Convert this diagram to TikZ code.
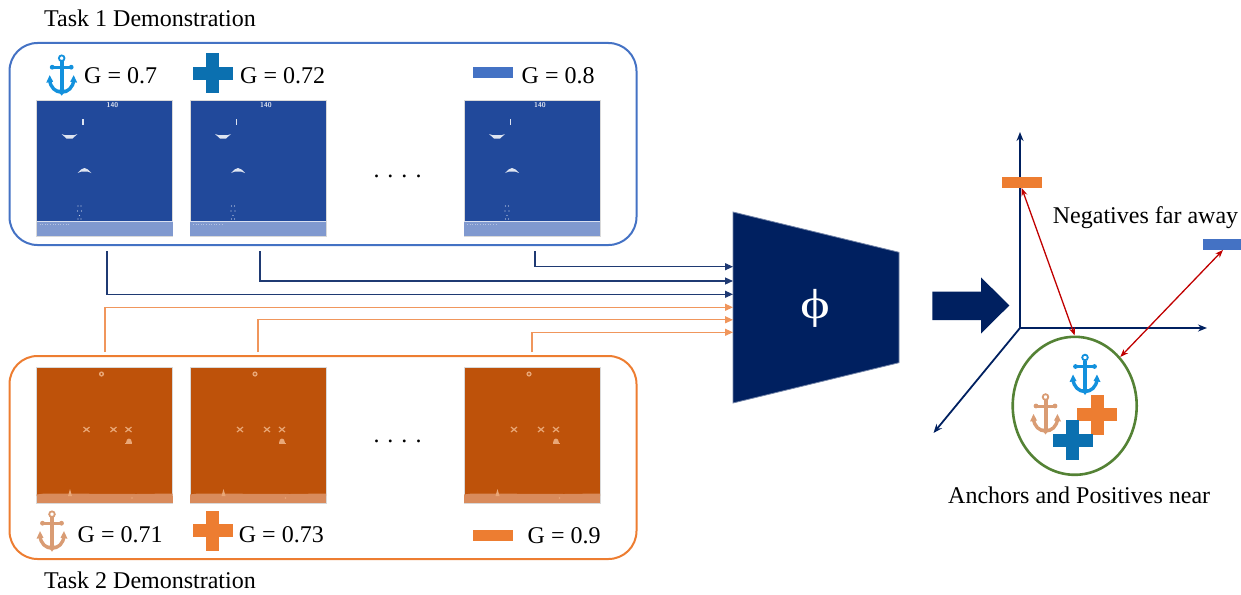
\documentclass[tikz,border=0pt]{standalone}
\usepackage{graphicx}
\usepackage{fontspec}
\setmainfont{Liberation Serif}
\newfontfamily\phifont{Liberation Serif}
\usetikzlibrary{arrows.meta,shapes.geometric,calc}

\definecolor{boxblue}{HTML}{4472C4}
\definecolor{boxorange}{HTML}{ED7D31}
\definecolor{navy}{HTML}{002060}
\definecolor{connblue}{HTML}{1F3A73}
\definecolor{connorange}{HTML}{F0965C}
\definecolor{arrowred}{HTML}{C00000}
\definecolor{ringgreen}{HTML}{548235}
\definecolor{anchorblue}{HTML}{1391DD}
\definecolor{anchortan}{HTML}{D99C74}
\definecolor{plusblue}{HTML}{0B70B0}
\definecolor{plusorange}{HTML}{ED7D31}
\definecolor{gameblue}{HTML}{21499B}
\definecolor{gamebluelight}{HTML}{8099CF}
\definecolor{gameorange}{HTML}{BE520A}
\definecolor{gameorangelight}{HTML}{D98B5C}
\definecolor{spritepale}{HTML}{E9A777}

\tikzset{
  lbl/.style={inner sep=0pt, anchor=base west},
  bframe/.style={draw=black!15, line width=0.8, fill=gameblue, minimum width=136, minimum height=136, inner sep=0pt, outer sep=0pt},
  oframe/.style={bframe, fill=gameorange},
  bconn/.style={draw=connblue, line width=1.2, -{Triangle[length=8pt,width=7pt]}},
  oconn/.style={draw=connorange, line width=1.2, -{Triangle[length=8pt,width=7pt]}},
  axisline/.style={draw=navy, line width=1.8, -{Stealth[length=9pt,width=7pt]}},
  redarrow/.style={draw=arrowred, line width=1.3, {Stealth[length=8pt,width=6pt]}-{Stealth[length=8pt,width=6pt]}},
  bar/.style={minimum width=40, minimum height=10.5, inner sep=0pt},
  % anchor icon, origin at the top centre of the ring
  anchoricon/.pic={
    \draw[line width=1.8] (0,3.5) circle (2.8);
    \draw[line width=4] (0,6.5) -- (0,36);
    \draw[line width=3] (-9,12.5) -- (9,12.5);
    \fill (-9.5,12.5) circle (2.4) (9.5,12.5) circle (2.4);
    \draw[line width=3.4] (-12,25) .. controls (-11.5,33) and (-6,37.5) .. (0,37.5)
                                    .. controls (6,37.5) and (11.5,33) .. (12,25);
    \fill (-12,20.5) -- (-15.5,28) -- (-8.5,27) -- cycle;
    \fill (12,20.5) -- (15.5,28) -- (8.5,27) -- cycle;
    \fill (-4.5,35) -- (0,41) -- (4.5,35) -- cycle;
  },
  plusicon/.pic={
    \fill (-20,-6.5) rectangle (20,6.5);
    \fill (-6.5,-20) rectangle (6.5,20);
  },
  % sea scene, origin at the frame's top left corner
  seablue/.pic={
    \fill[gamebluelight] (0,121) rectangle (136,136);
    \draw[white!70!gamebluelight, line width=1] (0,121.5) -- (136,121.5);
    \draw[white!40!gamebluelight, line width=0.6, dotted] (3,124.5) -- (33,124.5);
    \node[text=white!85!gameblue, font=\sffamily\bfseries\fontsize{7}{7}\selectfont, inner sep=0pt] at (76,5.5) {140};
    \draw[white!85!gameblue, line width=1.4] (46.5,19) -- (46.5,25);
    \fill[white!85!gameblue] (25,34) -- (28,35) -- (38,35) -- (41,34) -- (36,38.5) -- (30,38.5) -- cycle;
    \fill[white!85!gameblue] (41,73) -- (44.5,69.5) -- (48,68) -- (51.5,69.5) -- (55,73) -- (51,71.5) -- (45,71.5) -- cycle;
    \foreach \p in {(41.5,106),(44.5,106),(41,111),(45,111),(43,115.5),(41.5,119),(44.5,119)}
      \fill[white!75!gameblue] \p circle (0.7);
  },
  seaorange/.pic={
    \fill[gameorangelight] (0,129) rectangle (136,136);
    \fill[gameorangelight] (0,129) -- (0,127.5) -- (8,126.5) -- (100,127) -- (136,126.5) -- (136,129) -- cycle;
    \fill[spritepale] (31.5,129) -- (33.5,122) -- (35.5,129) -- cycle;
    \fill[spritepale] (95.5,131) circle (0.9);
    \fill[spritepale] (65,7) circle (2.6);
    \fill[gameorange] (65,7) circle (1.1);
    \foreach \cx in {50,77,92}{
      \draw[spritepale, line width=1.2] (\cx-3,60) -- (\cx+3,65) (\cx-3,65) -- (\cx+3,60);
      \fill[spritepale] (\cx,62.5) circle (1.2);
    }
    \fill[spritepale] (89,75.5) .. controls (89,70) and (95,70) .. (95,75.5) -- cycle;
    \fill[spritepale] (88.5,75.5) rectangle (95.5,77);
  },
}

\begin{document}
\begin{tikzpicture}[x=1pt, y=-1pt, font=\fontsize{24}{28}\selectfont]
\useasboundingbox (0,0) rectangle (1241,594);

% ---------- task 1 panel ----------
\node[lbl] (title1) at (44,26.7) {Task 1 Demonstration};
\draw[boxblue, line width=2, rounded corners=28] (9.5,43) rectangle (636.5,245);

\pic[anchorblue] at (61.7,54.7) {anchoricon};
\node[lbl] (g1) at (84,83) {G = 0.7};
\pic[plusblue] at (212.5,73) {plusicon};
\node[lbl] (g2) at (240,83) {G = 0.72};
\node[bar, fill=boxblue] (bluebar1) at (493,72.5) {};
\node[lbl] (g3) at (521.5,83) {G = 0.8};

\node[bframe] (t1) at (104.5,168) {};
\node[bframe] (t2) at (258,168) {};
\node[bframe] (t3) at (532,168) {};
\pic at (t1.north west) {seablue};
\pic at (t2.north west) {seablue};
\pic at (t3.north west) {seablue};
\node[inner sep=0pt, anchor=base] (dots1) at (397.5,177) {. . . .};

% ---------- task 2 panel ----------
\draw[boxorange, line width=2, rounded corners=28] (9.5,356) rectangle (636.5,559);

\node[oframe] (b1) at (104.5,435) {};
\node[oframe] (b2) at (258,435) {};
\node[oframe] (b3) at (532,435) {};
\pic at (b1.north west) {seaorange};
\pic at (b2.north west) {seaorange};
\pic at (b3.north west) {seaorange};
\node[inner sep=0pt, anchor=base] (dots2) at (397.5,442) {. . . .};

\pic[anchortan] at (52,510.7) {anchoricon};
\node[lbl] (g4) at (77.5,542.7) {G = 0.71};
\pic[plusorange] at (212.5,530.5) {plusicon};
\node[lbl] (g5) at (238.7,542.7) {G = 0.73};
\node[bar, fill=boxorange] (orangebar1) at (493,535.5) {};
\node[lbl] (g6) at (527.5,543.3) {G = 0.9};
\node[lbl] (title2) at (44,588.5) {Task 2 Demonstration};

% ---------- encoder ----------
\filldraw[fill=navy, draw=navy!55!white, line width=0.8]
  (733,212) -- (899,252.3) -- (899,362.7) -- (733,403) -- cycle;
\node[text=white, font=\phifont\fontsize{42}{42}\selectfont, inner sep=0pt] (phi) at (815.5,308) {\scalebox{1.35}[1]{ϕ}};

\coordinate (e1) at (733,266.7);
\coordinate (e2) at (733,281);
\coordinate (e3) at (733,294.3);
\coordinate (e4) at (733,307.3);
\coordinate (e5) at (733,319.8);
\coordinate (e6) at (733,332.3);
\coordinate (s1) at (107,251);
\coordinate (s2) at (260,251);
\coordinate (s3) at (535,251);
\coordinate (u1) at (105,352);
\coordinate (u2) at (258,352);
\coordinate (u3) at (532,352);

\draw[bconn] (s3) |- (e1);
\draw[bconn] (s2) |- (e2);
\draw[bconn] (s1) |- (e3);
\draw[oconn] (u1) |- (e4);
\draw[oconn] (u2) |- (e5);
\draw[oconn] (u3) |- (e6);

% ---------- embedding space ----------
\fill[navy] (932.3,291.7) -- (981,291.7) -- (981,277.3) -- (1009.3,305.5)
  -- (981,333.5) -- (981,320) -- (932.3,320) -- cycle;

\coordinate (O) at (1020,328);
\coordinate (yend) at (1020,132);
\coordinate (xend) at (1207,328);
\coordinate (zend) at (933.5,433);
\draw[axisline] (O) -- (yend);
\draw[axisline] (O) -- (xend);
\draw[axisline] (O) -- (zend);

\node[bar, fill=boxorange] (negorange) at (1021.7,182.5) {};
\node[bar, fill=boxblue] (negblue) at (1223,244.5) {};
\node[lbl] (neg) at (1052.7,223.3) {Negatives far away};

\node[ellipse, draw=ringgreen, line width=2.6, minimum width=124, minimum height=138, inner sep=0pt] (cluster) at (1074.7,405.8) {};
\pic[anchorblue] at (1085,354) {anchoricon};
\pic[anchortan] at (1045.5,393.5) {anchoricon};
\pic[plusorange] at (1097,414.5) {plusicon};
\pic[plusblue] at (1072.5,440) {plusicon};

\draw[redarrow] (negorange.south) -- (cluster.north);
\draw[redarrow] (negblue.south) -- (cluster.47);

\node[lbl] (pos) at (948,503) {Anchors and Positives near};
\end{tikzpicture}
\end{document}
